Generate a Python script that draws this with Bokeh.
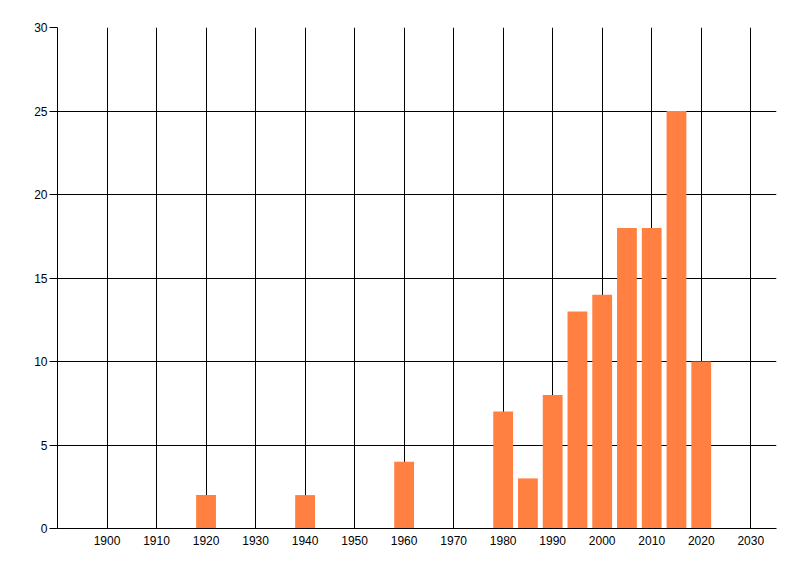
from bokeh.embed import file_html
from bokeh.models import FixedTicker, Range1d
from bokeh.plotting import figure
from bokeh.resources import INLINE

# Counts per five-year period
years = [1920, 1940, 1960, 1980, 1985, 1990, 1995, 2000, 2005, 2010, 2015, 2020]
counts = [2, 2, 4, 7, 3, 8, 13, 14, 18, 18, 25, 10]

x_ticks = [1900, 1910, 1920, 1930, 1940, 1950, 1960, 1970, 1980, 1990, 2000, 2010, 2020, 2030]
y_ticks = [0, 5, 10, 15, 20, 25, 30]

FONT = "Liberation Sans"


def make_plot():
    p = figure(
        frame_width=719,
        frame_height=501,
        min_border_left=57,
        min_border_top=27,
        min_border_right=8,
        min_border_bottom=30,
        x_range=Range1d(1890, 2035.2),
        y_range=Range1d(0, 30),
        toolbar_location=None,
        output_backend="svg",
    )
    p.outline_line_color = None

    p.vbar(x=years, top=counts, width=4, bottom=0, fill_color="#FF8040", line_color=None)

    p.xaxis.ticker = FixedTicker(ticks=x_ticks)
    p.yaxis.ticker = FixedTicker(ticks=y_ticks)

    p.grid.grid_line_color = "black"
    p.grid.grid_line_width = 1
    p.grid.grid_line_alpha = 1
    p.grid.level = "underlay"

    p.axis.axis_line_color = "black"
    p.axis.minor_tick_line_color = None
    p.axis.major_label_text_font = FONT
    p.axis.major_label_text_font_size = "12px"
    p.axis.major_label_text_color = "black"

    p.xaxis.major_tick_out = 0
    p.xaxis.major_tick_in = 0
    p.xaxis.major_label_standoff = 7

    p.yaxis.major_tick_out = 8
    p.yaxis.major_tick_in = 0
    p.yaxis.major_tick_line_color = "black"
    p.yaxis.major_label_standoff = 2
    return p


p = make_plot()
open("out.html", "w").write(file_html(p, INLINE))
